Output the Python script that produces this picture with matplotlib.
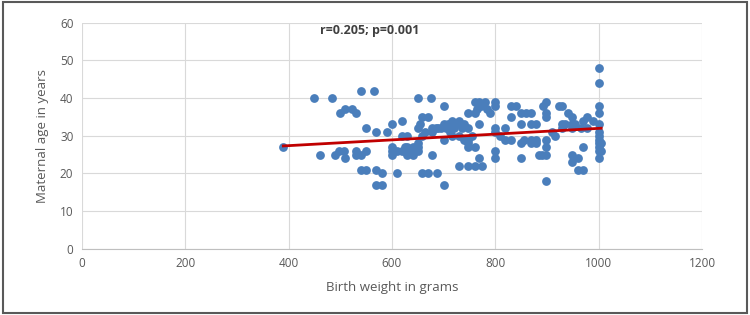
import matplotlib.pyplot as plt
from matplotlib.patches import Rectangle

# peso al nacer (g) y edad materna (años)
peso = [389, 450, 484, 460, 490, 498, 500, 510, 523, 530, 508, 510, 530, 530,
        540, 540, 540, 550, 550, 550, 565, 570, 570, 570, 580, 580, 590,
        600, 600, 600, 600, 610, 620, 620, 620, 625, 630, 630, 635, 640, 640, 645,
        630, 630, 640, 650, 650, 650, 650, 650, 658, 658, 658, 669, 669,
        675, 678, 678, 678, 688, 690, 700, 700, 700, 700, 709, 717, 717,
        720, 725, 730, 730, 730, 739, 739, 748, 748, 748, 748, 748, 748,
        760, 760, 760, 760, 769, 769, 769, 775, 780, 790, 799, 799, 799,
        799, 799, 799, 819, 819, 830, 830, 830, 840, 849, 849, 849, 849,
        860, 869, 869, 869, 869, 878, 878, 878, 890, 893, 899, 899, 899,
        899, 899, 899, 899, 910, 923, 930, 930, 930, 940, 949, 949, 949,
        949, 949, 960, 960, 969, 969, 969, 978, 978, 989, 1000, 1000, 1000,
        1000, 1000, 1000, 1000, 1000, 1000, 1000, 1000, 1000, 1005, 1005,
        610, 625, 655, 665, 685, 695, 705, 712, 735, 755, 765, 772, 785, 810,
        855, 885, 915, 935, 955, 965]
edad = [27, 40, 40, 25, 25, 26, 36, 37, 37, 36, 26, 24, 26, 25,
        42, 21, 25, 26, 32, 21, 42, 31, 21, 17, 17, 20, 31,
        33, 27, 26, 25, 20, 34, 30, 26, 27, 30, 25, 26, 25, 27, 26,
        27, 26, 26, 40, 32, 28, 26, 27, 35, 30, 20, 35, 20,
        40, 32, 31, 25, 20, 32, 38, 33, 17, 29, 33, 34, 30,
        32, 33, 34, 22, 30, 33, 29, 36, 32, 29, 28, 27, 22,
        39, 36, 27, 22, 39, 33, 24, 22, 39, 36, 39, 38, 32,
        31, 26, 24, 32, 29, 38, 35, 29, 38, 36, 33, 28, 24,
        36, 36, 33, 29, 28, 33, 29, 28, 25, 38, 39, 36, 35,
        29, 27, 25, 18, 31, 38, 38, 33, 32, 36, 35, 33, 32,
        25, 23, 24, 21, 21, 27, 34, 35, 32, 34, 48, 44, 38,
        36, 33, 31, 30, 29, 28, 27, 26, 24, 28, 26,
        26, 26, 33, 31, 32, 32, 32, 31, 32, 30, 37, 38, 37, 30,
        29, 25, 30, 33, 33, 32]

# linea de tendencia (extremos)
tendencia_x = [390, 1005]
tendencia_y = [27.3, 32.0]

xticks = [0, 200, 400, 600, 800, 1000, 1200]
yticks = [0, 10, 20, 30, 40, 50, 60]

gris = "#595959"
plt.rcParams['font.family'] = ['Open Sans', 'DejaVu Sans']

fig = plt.figure(figsize=(7.5, 3.15), dpi=100)
ax = fig.add_axes([0.109, 0.21, 0.827, 0.718])

ax.scatter(peso, edad, s=40, color="#4A7EBB", zorder=3, linewidths=0)
ax.plot(tendencia_x, tendencia_y, color="#C00000", linewidth=2, zorder=4)

ax.set_xlim(0, 1200)
ax.set_ylim(0, 60)
ax.set_xticks(xticks)
ax.set_yticks(yticks)
ax.grid(True, color="#D9D9D9", linewidth=0.8)
ax.set_axisbelow(True)
for lado in ["top", "right", "left"]:
    ax.spines[lado].set_visible(False)
ax.spines["bottom"].set_color("#BFBFBF")
ax.tick_params(length=0, colors=gris, labelsize=8.5, pad=6)

ax.set_xlabel("Birth weight in grams", color=gris, fontsize=9.5, labelpad=8)
ax.set_ylabel("Maternal age in years", color=gris, fontsize=9.5, labelpad=8)

ax.text(557, 58, "r=0.205; p=0.001", ha="center", va="center",
        fontsize=9, fontweight="bold", color="#404040")

# marco de la figura
fig.patches.append(Rectangle((0.004, 0.006), 0.992, 0.988, transform=fig.transFigure,
                             fill=False, edgecolor="#595959", linewidth=1.5))

plt.savefig("out.png", dpi=100)
